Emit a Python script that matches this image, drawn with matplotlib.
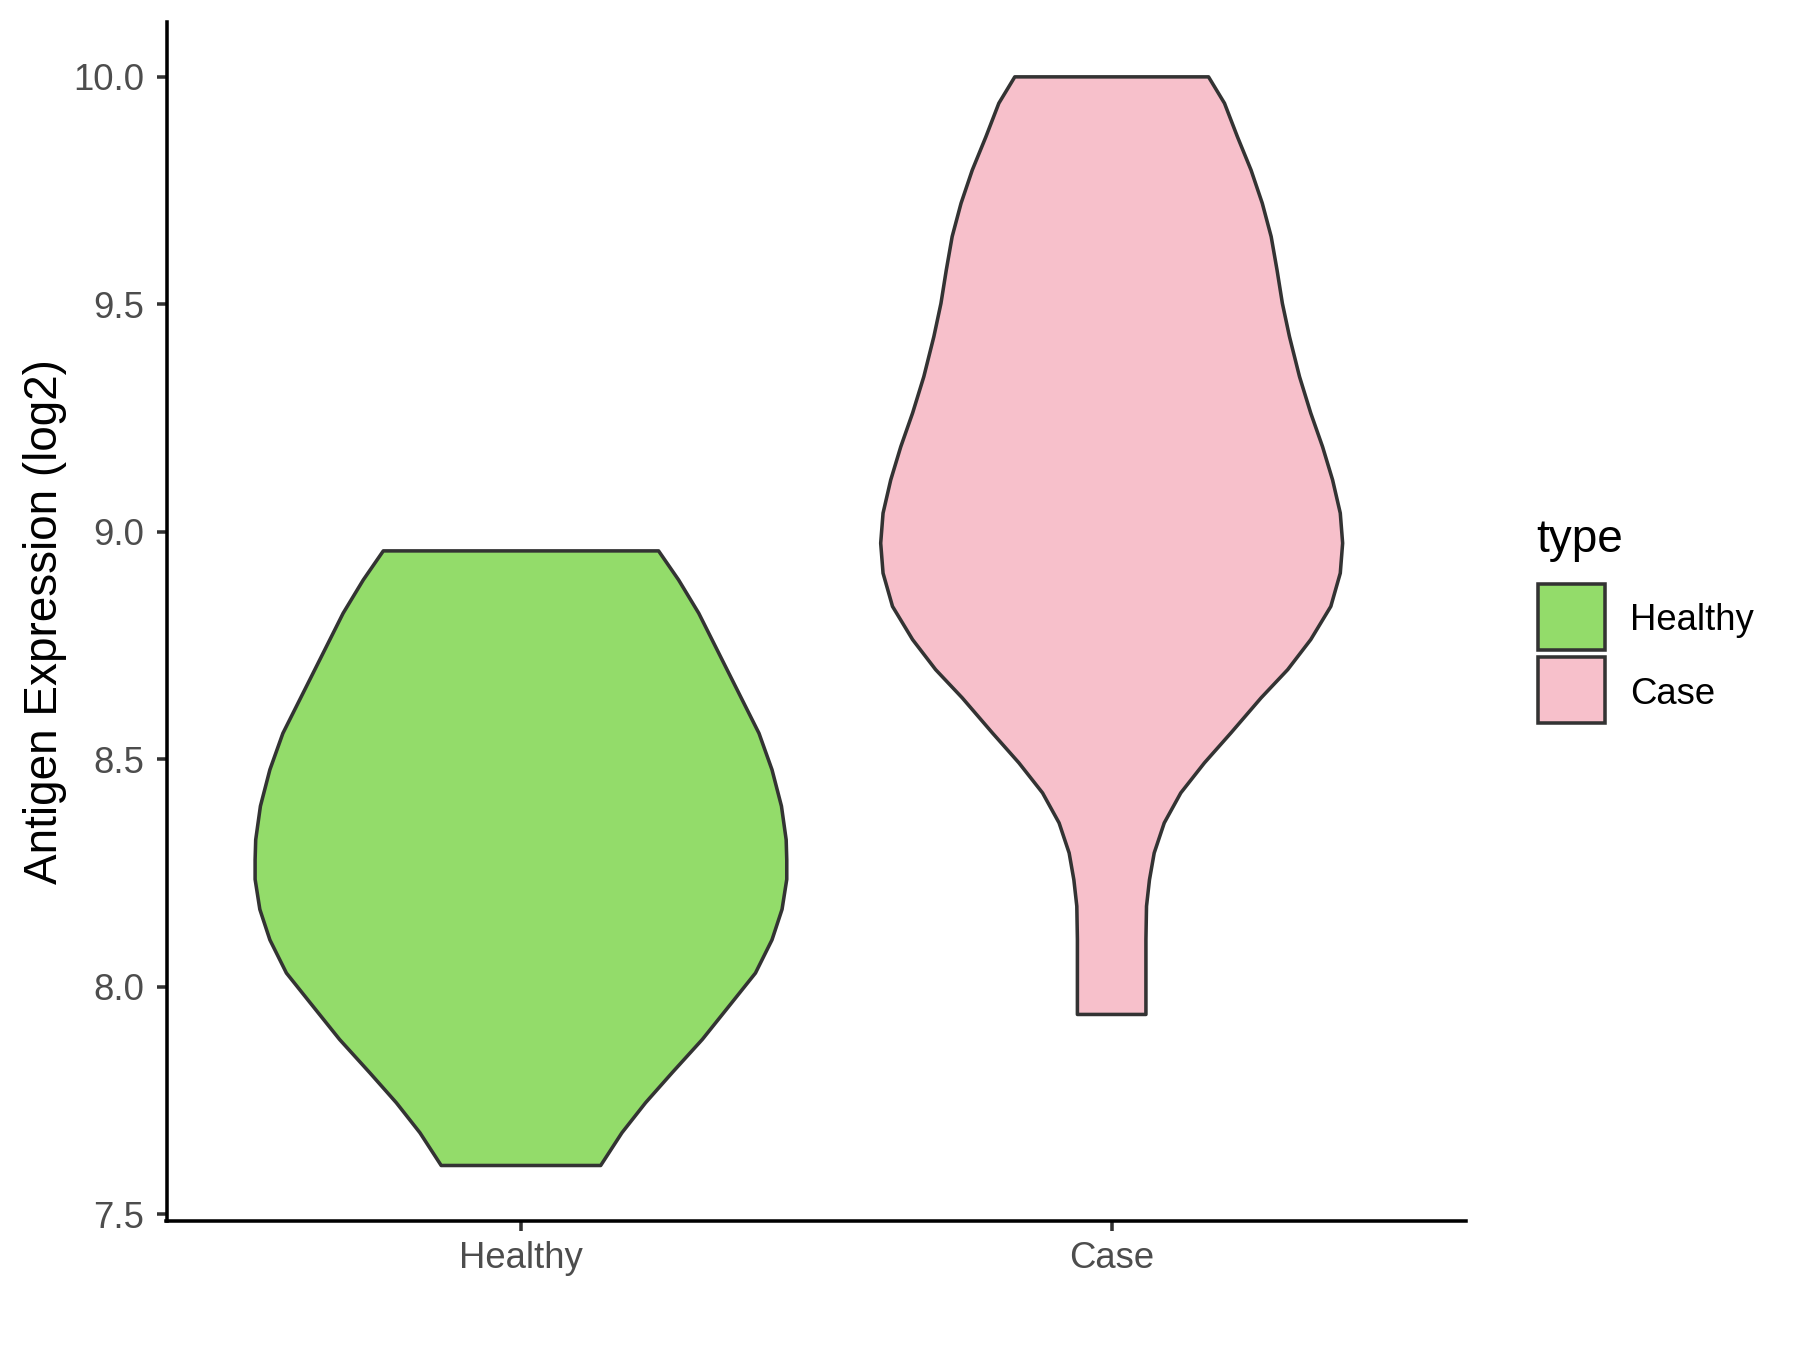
import matplotlib
matplotlib.use("Agg")
import matplotlib.pyplot as plt
from matplotlib.patches import Rectangle

plt.rcParams['font.family'] = ['Liberation Sans', 'DejaVu Sans']

# Data: violin outlines
# (expression level, half-width in category units)
categories = ['Healthy', 'Case']
colors = ['#93DC6A', '#F7C0CB']

healthy_y = [8.958, 8.894, 8.821, 8.733, 8.645, 8.557, 8.477, 8.397, 8.323, 8.279,
             8.236, 8.170, 8.103, 8.030, 7.965, 7.884, 7.811, 7.745, 7.679, 7.607]
healthy_w = [0.233, 0.267, 0.301, 0.335, 0.369, 0.403, 0.425, 0.441, 0.449, 0.450,
             0.450, 0.442, 0.425, 0.397, 0.357, 0.307, 0.256, 0.211, 0.171, 0.135]

case_y = [10.0, 9.942, 9.868, 9.795, 9.722, 9.649, 9.575, 9.502, 9.429, 9.341,
          9.261, 9.187, 9.114, 9.041, 8.975, 8.909, 8.836, 8.763, 8.697, 8.635,
          8.558, 8.492, 8.426, 8.360, 8.294, 8.235, 8.177, 8.104, 7.939]
case_w = [0.164, 0.191, 0.213, 0.236, 0.255, 0.270, 0.280, 0.289, 0.301, 0.318,
          0.337, 0.357, 0.374, 0.387, 0.391, 0.387, 0.371, 0.337, 0.298, 0.253,
          0.202, 0.157, 0.117, 0.089, 0.072, 0.064, 0.059, 0.058, 0.058]

profiles = [(healthy_y, healthy_w), (case_y, case_w)]

fig = plt.figure(figsize=(12, 9), dpi=150)
ax = fig.add_axes([0.0925, 0.0959, 0.722, 0.8876])

edge = '#333333'
for i, (ys, ws) in enumerate(profiles):
    pos = i + 1
    xs = [pos - w for w in ws] + [pos + w for w in ws[::-1]]
    yy = list(ys) + list(ys[::-1])
    ax.fill(xs, yy, facecolor=colors[i], edgecolor=edge, linewidth=1.7,
            joinstyle='round', zorder=2)

ax.set_xlim(0.4, 2.6)
ax.set_ylim(7.486, 10.12)
ax.set_xticks([1, 2])
ax.set_xticklabels(categories)
ax.set_yticks([7.5, 8.0, 8.5, 9.0, 9.5, 10.0])
ax.set_yticklabels(['7.5', '8.0', '8.5', '9.0', '9.5', '10.0'])

for s in ['top', 'right']:
    ax.spines[s].set_visible(False)
for s in ['left', 'bottom']:
    ax.spines[s].set_linewidth(1.7)
    ax.spines[s].set_color('black')

ax.tick_params(axis='both', length=4.8, width=1.7, color='#333333',
               labelcolor='#4D4D4D', labelsize=17.5, pad=6)
ax.tick_params(axis='x', pad=5)

ax.set_ylabel('Antigen Expression (log2)', fontsize=22, color='black', labelpad=3)

# Legend drawn by hand to match ggplot layout
fig.text(1536 / 1800, 1 - 540 / 1350, 'type', fontsize=22, ha='left', va='center')
box_tops = [584, 657]
for i, lab in enumerate(categories):
    top = box_tops[i]
    fig.add_artist(Rectangle((1538 / 1800, 1 - (top + 66) / 1350), 67 / 1800, 66 / 1350,
                             transform=fig.transFigure, facecolor=colors[i],
                             edgecolor=edge, linewidth=1.7))
    fig.text(1630 / 1800, 1 - (top + 37) / 1350, lab, fontsize=17.5, ha='left', va='center')

fig.savefig('out.png', dpi=150)
